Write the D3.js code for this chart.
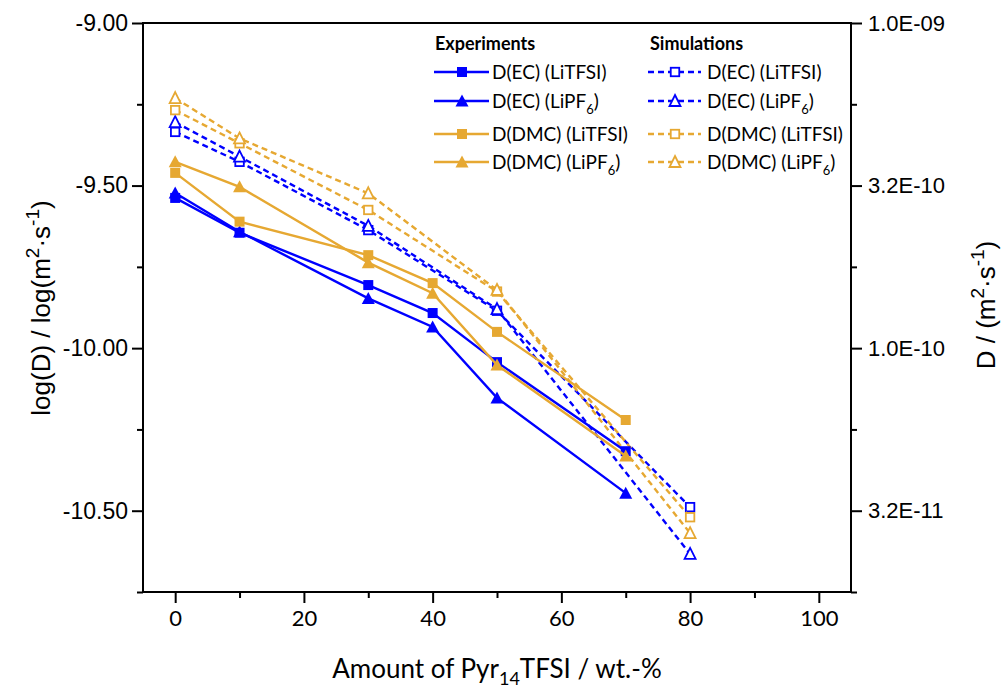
<!DOCTYPE html>
<html>
<head>
<meta charset="utf-8">
<script src="https://cdn.jsdelivr.net/npm/d3@7"></script>
<style>
  body { margin: 0; background: #fff; }
  svg { display: block; }
</style>
</head>
<body>
<svg id="chart" width="1008" height="696"></svg>
<script>
// ---- Data ----
const xExp = [0, 10, 30, 40, 50, 70];
const xSim = [0, 10, 30, 50, 80];

// experiments, log10(D)
const expEcLitfsi  = [-9.538, -9.645, -9.806, -9.892, -10.043, -10.317];
const expEcLipf6   = [-9.523, -9.642, -9.847, -9.935, -10.153, -10.446];
const expDmcLitfsi = [-9.461, -9.611, -9.714, -9.800, -9.950, -10.221];
const expDmcLipf6  = [-9.427, -9.504, -9.737, -9.831, -10.052, -10.332];

// simulations, log10(D)
const simEcLitfsi  = [-9.335, -9.427, -9.637, -9.885, -10.489];
const simEcLipf6   = [-9.305, -9.411, -9.624, -9.880, -10.633];
const simDmcLitfsi = [-9.268, -9.370, -9.575, -9.826, -10.520];
const simDmcLipf6  = [-9.231, -9.355, -9.524, -9.821, -10.569];

const xMajor = [0, 20, 40, 60, 80, 100];
const xMinor = [10, 30, 50, 70, 90];
const yMajor = [-9.0, -9.5, -10.0, -10.5];
const yMinor = [-9.25, -9.75, -10.25, -10.75];
const yRightLabels = ["1.0E-09", "3.2E-10", "1.0E-10", "3.2E-11"];

const BLUE = "#0000ff";
const ORANGE = "#e6a832";

const series = [
  { name: "EC",  salt: "LiTFSI", xs: xSim, ys: simEcLitfsi,  color: BLUE,   shape: "square",   filled: false, dashed: true },
  { name: "EC",  salt: "LiPF6",  xs: xSim, ys: simEcLipf6,   color: BLUE,   shape: "triangle", filled: false, dashed: true },
  { name: "DMC", salt: "LiTFSI", xs: xSim, ys: simDmcLitfsi, color: ORANGE, shape: "square",   filled: false, dashed: true },
  { name: "DMC", salt: "LiPF6",  xs: xSim, ys: simDmcLipf6,  color: ORANGE, shape: "triangle", filled: false, dashed: true },
  { name: "EC",  salt: "LiTFSI", xs: xExp, ys: expEcLitfsi,  color: BLUE,   shape: "square",   filled: true,  dashed: false },
  { name: "EC",  salt: "LiPF6",  xs: xExp, ys: expEcLipf6,   color: BLUE,   shape: "triangle", filled: true,  dashed: false },
  { name: "DMC", salt: "LiTFSI", xs: xExp, ys: expDmcLitfsi, color: ORANGE, shape: "square",   filled: true,  dashed: false },
  { name: "DMC", salt: "LiPF6",  xs: xExp, ys: expDmcLipf6,  color: ORANGE, shape: "triangle", filled: true,  dashed: false }
];

// ---- Scales ----
const svg = d3.select("#chart");
const x = d3.scaleLinear().domain([-5, 105]).range([143, 851]);
const y = d3.scaleLinear().domain([-10.75, -9]).range([592, 23]);

const AXIS_FONT = "'Liberation Sans', Arial, sans-serif";
const TEXT_FONT = "Lato, 'Open Sans', sans-serif";

// ---- Axes ----
function styleAxis(g) {
  g.select(".domain").remove();
  g.selectAll(".tick line").attr("stroke", "#000").attr("stroke-width", 2);
}

svg.append("g").attr("transform", "translate(0,592)")
  .call(d3.axisBottom(x).tickValues(xMajor).tickSize(11).tickPadding(7).tickFormat(d => String(d)))
  .call(styleAxis)
  .selectAll("text").attr("font-family", TEXT_FONT).attr("font-size", 22).attr("fill", "#000");
svg.append("g").attr("transform", "translate(0,592)")
  .call(d3.axisBottom(x).tickValues(xMinor).tickSize(6).tickFormat(""))
  .call(styleAxis);

svg.append("g").attr("transform", "translate(143,0)")
  .call(d3.axisLeft(y).tickValues(yMajor).tickSize(11).tickPadding(4).tickFormat(d => d.toFixed(2)))
  .call(styleAxis)
  .selectAll("text").attr("font-family", AXIS_FONT).attr("font-size", 23).attr("fill", "#000");
svg.append("g").attr("transform", "translate(143,0)")
  .call(d3.axisLeft(y).tickValues(yMinor).tickSize(6).tickFormat(""))
  .call(styleAxis);

svg.append("g").attr("transform", "translate(851,0)")
  .call(d3.axisRight(y).tickValues(yMajor).tickSize(11).tickPadding(6).tickFormat((d, i) => yRightLabels[i]))
  .call(styleAxis)
  .selectAll("text").attr("font-family", AXIS_FONT).attr("font-size", 22).attr("fill", "#000");
svg.append("g").attr("transform", "translate(851,0)")
  .call(d3.axisRight(y).tickValues(yMinor).tickSize(6).tickFormat(""))
  .call(styleAxis);

// frame
svg.append("rect")
  .attr("x", x(-5)).attr("y", y(-9))
  .attr("width", x(105) - x(-5)).attr("height", y(-10.75) - y(-9))
  .attr("fill", "none").attr("stroke", "#000").attr("stroke-width", 2);

// ---- Markers ----
function drawMarker(g, shape, cx, cy, color, filled, size) {
  if (shape === "square") {
    const s = filled ? size : size - 1.5;
    g.append("rect")
      .attr("x", cx - s / 2).attr("y", cy - s / 2)
      .attr("width", s).attr("height", s)
      .attr("fill", filled ? color : "#fff")
      .attr("stroke", color).attr("stroke-width", filled ? 0 : 1.8);
  } else {
    const w = filled ? size + 3 : size + 1, h = filled ? size + 1 : size;
    g.append("path")
      .attr("d", `M${cx},${cy - h / 2 - 1}L${cx + w / 2},${cy + h / 2}L${cx - w / 2},${cy + h / 2}Z`)
      .attr("fill", filled ? color : "#fff")
      .attr("stroke", color).attr("stroke-width", filled ? 0 : 1.8);
  }
}

const line = d3.line().x(d => x(d[0])).y(d => y(d[1]));
const plot = svg.append("g");

series.forEach(s => {
  const pts = s.xs.map((v, i) => [v, s.ys[i]]);
  plot.append("path")
    .attr("d", line(pts))
    .attr("fill", "none")
    .attr("stroke", s.color)
    .attr("stroke-width", 2.4)
    .attr("stroke-dasharray", s.dashed ? "6,4" : null);
  const mg = plot.append("g");
  pts.forEach(p => drawMarker(mg, s.shape, x(p[0]), y(p[1]), s.color, s.filled, 10));
});

// ---- Legend ----
const legend = svg.append("g").attr("font-family", TEXT_FONT).attr("font-size", 19).attr("fill", "#000");
legend.append("text").attr("x", 435).attr("y", 50).attr("font-weight", 700).attr("font-size", 18).text("Experiments");
legend.append("text").attr("x", 650).attr("y", 50).attr("font-weight", 700).attr("font-size", 18).text("Simulations");

const rowY = [72, 101, 134, 162];
const order = [0, 1, 2, 3];
function legendLabel(t, s) {
  t.append("tspan").text(`D(${s.name}) (`);
  if (s.salt === "LiPF6") {
    t.append("tspan").text("LiPF");
    t.append("tspan").attr("dy", 6).attr("font-size", 13).text("6");
    t.append("tspan").attr("dy", -6).text(")");
  } else {
    t.append("tspan").text(s.salt + ")");
  }
}
order.forEach((k, r) => {
  const ex = series[k + 4], sm = series[k];
  const yy = rowY[r];
  legend.append("line").attr("x1", 434).attr("x2", 489).attr("y1", yy).attr("y2", yy)
    .attr("stroke", ex.color).attr("stroke-width", 2.4);
  drawMarker(legend, ex.shape, 462, yy, ex.color, true, 10);
  legendLabel(legend.append("text").attr("x", 492).attr("y", yy + 7), ex);

  legend.append("line").attr("x1", 648).attr("x2", 701).attr("y1", yy).attr("y2", yy)
    .attr("stroke", sm.color).attr("stroke-width", 2.4).attr("stroke-dasharray", "6,4");
  drawMarker(legend, sm.shape, 675, yy, sm.color, false, 10);
  legendLabel(legend.append("text").attr("x", 707).attr("y", yy + 7), sm);
});

// ---- Axis titles ----
const xt = svg.append("text").attr("x", 497).attr("y", 678).attr("text-anchor", "middle")
  .attr("font-family", TEXT_FONT).attr("font-size", 26).attr("fill", "#000");
xt.append("tspan").text("Amount of Pyr");
xt.append("tspan").attr("dy", 7).attr("font-size", 18).text("14");
xt.append("tspan").attr("dy", -7).text("TFSI / wt.-%");

const yt = svg.append("text").attr("transform", "translate(50,308) rotate(-90)").attr("text-anchor", "middle")
  .attr("font-family", AXIS_FONT).attr("font-size", 26).attr("fill", "#000");
yt.append("tspan").text("log(D) / log(m");
yt.append("tspan").attr("dy", -11).attr("font-size", 19).text("2");
yt.append("tspan").attr("dy", 11).text("·s");
yt.append("tspan").attr("dy", -11).attr("font-size", 19).text("-1");
yt.append("tspan").attr("dy", 11).text(")");

const yr = svg.append("text").attr("transform", "translate(995,305) rotate(-90)").attr("text-anchor", "middle")
  .attr("font-family", AXIS_FONT).attr("font-size", 26).attr("fill", "#000");
yr.append("tspan").text("D / (m");
yr.append("tspan").attr("dy", -11).attr("font-size", 19).text("2");
yr.append("tspan").attr("dy", 11).text("·s");
yr.append("tspan").attr("dy", -11).attr("font-size", 19).text("-1");
yr.append("tspan").attr("dy", 11).text(")");
</script>
</body>
</html>
